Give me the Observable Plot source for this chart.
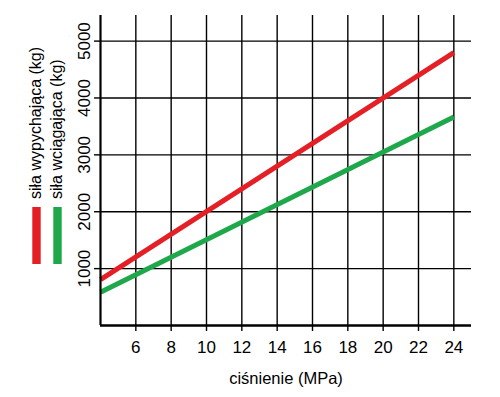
<!DOCTYPE html>
<html>
<head>
<meta charset="utf-8">
<script src="https://cdn.jsdelivr.net/npm/d3@7"></script>
<script src="https://cdn.jsdelivr.net/npm/@observablehq/plot@0.6"></script>
<style>
  html, body { margin: 0; padding: 0; background: #fff; }
  #wrap { position: relative; width: 500px; height: 397px; }
  #wrap svg { position: absolute; left: 0; top: 0; }
</style>
</head>
<body>
<div id="wrap"></div>
<script>
// Data
const pressure = [4, 24];                 // MPa
const pushForce = [805, 4798];            // siła wypychająca (kg)
const pullForce = [585, 3667];            // siła wciągająca (kg)
const xTicks = [6, 8, 10, 12, 14, 16, 18, 20, 22, 24];
const yTicks = [1000, 2000, 3000, 4000, 5000];
const seriesNames = ["siła wypychająca (kg)", "siła wciągająca (kg)"];
const seriesColors = ["#e41f26", "#1fa84b"];
const xLabel = "ciśnienie (MPa)";

const rows = [];
pressure.forEach((p, i) => {
  rows.push({p, v: pushForce[i], s: seriesNames[0]});
  rows.push({p, v: pullForce[i], s: seriesNames[1]});
});

const font = "Liberation Sans, Arial, sans-serif";

const chart = Plot.plot({
  width: 500,
  height: 397,
  marginLeft: 100,
  marginRight: 29,
  marginTop: 15,
  marginBottom: 72,
  style: {fontFamily: font, background: "transparent", color: "#000"},
  x: {domain: [4, 25], ticks: xTicks},
  y: {domain: [0, 5450], ticks: yTicks},
  color: {domain: seriesNames, range: seriesColors},
  marks: [
    Plot.gridX(xTicks, {stroke: "#000", strokeOpacity: 1, strokeWidth: 1.4}),
    Plot.gridY(yTicks, {stroke: "#000", strokeOpacity: 1, strokeWidth: 1.4}),
    Plot.axisX(xTicks, {tickSize: 6, tickPadding: 9, fontSize: 17, label: null, strokeWidth: 1.4}),
    Plot.axisY(yTicks, {tickSize: 6, tickFormat: () => "", label: null, strokeWidth: 1.4}),
    Plot.text(yTicks, {y: d => d, frameAnchor: "left", dx: -15.5, rotate: -90, text: d => String(d), fontSize: 17, textAnchor: "middle", lineAnchor: "middle"}),
    Plot.line(rows, {x: "p", y: "v", stroke: "s", z: "s", strokeWidth: 5, strokeLinecap: "butt"}),
    Plot.ruleX([4], {stroke: "#000", strokeWidth: 2.2}),
    Plot.ruleY([0], {stroke: "#000", strokeWidth: 2.6, x1: 4, x2: 25}),
    Plot.text([xLabel], {frameAnchor: "bottom", dy: 58, fontSize: 16.5, text: d => d})
  ]
});

document.getElementById("wrap").appendChild(chart);

// Legend (left side, rotated labels with colored bars)
const svg = d3.select(chart);
const lg = svg.append("g").attr("font-family", font).attr("font-size", 16);
const legendX = [36.5, 57.5];
const textX = [41, 62];
seriesNames.forEach((name, i) => {
  lg.append("rect")
    .attr("x", legendX[i] - 4.2).attr("y", 207)
    .attr("width", 8.4).attr("height", 57)
    .attr("fill", seriesColors[i]);
  lg.append("text")
    .attr("transform", `translate(${textX[i]},199) rotate(-90)`)
    .attr("text-anchor", "start")
    .attr("fill", "#000")
    .text(name);
});
</script>
</body>
</html>
